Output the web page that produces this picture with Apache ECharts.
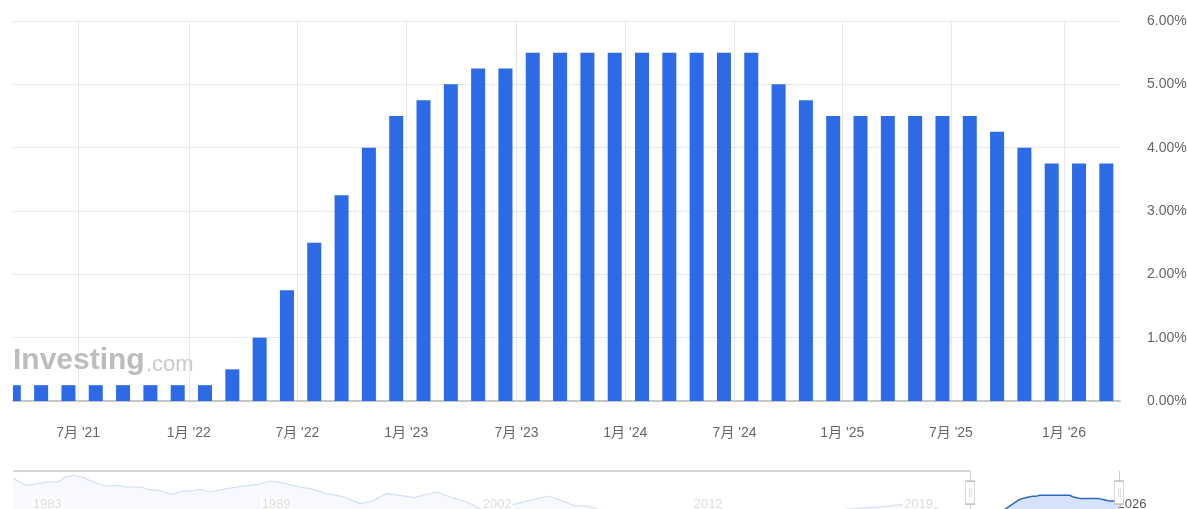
<!DOCTYPE html>
<html>
<head>
<meta charset="utf-8">
<script src="https://cdn.jsdelivr.net/npm/echarts@6/dist/echarts.min.js"></script>
<style>
    html, body { margin: 0; padding: 0; background: #fff; }
    #main { width: 1187px; height: 509px; }
</style>
</head>
<body>
<div id="main"></div>
<script>
// FOMC 决议日期与利率（上限，%）
var meetingDates = ['2021-03-17', '2021-04-28', '2021-06-16', '2021-07-28', '2021-09-22', '2021-11-03', '2021-12-15',
    '2022-01-26', '2022-03-16', '2022-05-04', '2022-06-15', '2022-07-27', '2022-09-21', '2022-11-02', '2022-12-14',
    '2023-02-01', '2023-03-22', '2023-05-03', '2023-06-14', '2023-07-26', '2023-09-20', '2023-11-01', '2023-12-13',
    '2024-01-31', '2024-03-20', '2024-05-01', '2024-06-12', '2024-07-31', '2024-09-18', '2024-11-07', '2024-12-18',
    '2025-01-29', '2025-03-19', '2025-05-07', '2025-06-18', '2025-07-30', '2025-09-17', '2025-10-29', '2025-12-10',
    '2026-01-28', '2026-03-18'];
var rates = [0.25, 0.25, 0.25, 0.25, 0.25, 0.25, 0.25,
    0.25, 0.50, 1.00, 1.75, 2.50, 3.25, 4.00, 4.50,
    4.75, 5.00, 5.25, 5.25, 5.50, 5.50, 5.50, 5.50,
    5.50, 5.50, 5.50, 5.50, 5.50, 5.00, 4.75, 4.50,
    4.50, 4.50, 4.50, 4.50, 4.50, 4.25, 4.00, 3.75,
    3.75, 3.75];

// x 轴标签
var tickLabels = ["7月 '21", "1月 '22", "7月 '22", "1月 '23", "7月 '23", "1月 '24", "7月 '24", "1月 '25", "7月 '25", "1月 '26"];
var tickDates = ['2021-07-01', '2022-01-01', '2022-07-01', '2023-01-01', '2023-07-01', '2024-01-01', '2024-07-01', '2025-01-01', '2025-07-01', '2026-01-01'];

// 下方缩略图：历史走势（横坐标以决议序号计）
var navX = [-260.3, -256.6, -251.2, -248.1, -246.2, -244.0, -241.6, -237.6, -234.8, -231.8, -229.4, -225.8, -223.6, -220.9,
    -217.2, -214.4, -211.7, -209.5, -206.7, -202.2, -197.8, -194.0, -190.4, -187.7, -182.3, -179.5, -175.0, -170.5,
    -165.9, -162.8, -158.7, -155.1, -151.4, -145.1, -141.5, -136.9, -133.3, -128.7, -124.7, -114.7, -107.9, -103.9,
    -100.7, -97.9, -73.4, -40.8, -31.8, -24.5, -18.2, -14.1, -9.5, -6.8, -4.1, 0];
var navY = [10.5, 8.5, 9.5, 9.5, 11.0, 11.5, 11.0, 9.0, 8.3, 8.5, 8.0, 8.0, 7.3, 7.0,
    5.8, 6.7, 6.8, 7.3, 6.5, 7.5, 8.3, 8.7, 9.8, 9.3, 8.0, 7.5, 6.0, 5.0,
    3.0, 3.7, 6.0, 5.5, 4.8, 6.5, 5.0, 3.5, 1.5, 1.0, 2.7, 5.3, 2.5, 2.2,
    1.0, 0.25, 0.25, 0.5, 1.5, 2.0, 2.8, 2.0, 1.75, 0.25, 0.25, 0.25];
var navYears = ['1983', '1989', '2002', '2012', '2019', '2026'];
var navYearPos = [-251.1, -188.8, -128.7, -71.3, -14.1, 44.0];

// 主图可见范围 / 缩略图范围
var viewMin = -0.03, viewMax = 40.5;
var navMin = -260.4, navMax = 51.6, navTop = 12.8;

// 日期 -> 决议序号（线性插值）
function datePos(s) {
    var t = new Date(s).getTime();
    for (var i = 0; i < meetingDates.length - 1; i++) {
        var a = new Date(meetingDates[i]).getTime();
        var b = new Date(meetingDates[i + 1]).getTime();
        if (t >= a && t < b) return i + (t - a) / (b - a);
    }
    return meetingDates.length - 1;
}
var tickPos = tickDates.map(datePos);

// 按数值找最近的标签
function nearest(list, names, v) {
    var best = 0;
    for (var i = 1; i < list.length; i++) {
        if (Math.abs(list[i] - v) < Math.abs(list[best] - v)) best = i;
    }
    return names[best];
}

var font = "Arial, 'Liberation Sans', 'Noto Sans CJK SC', sans-serif";
var barColor = '#2d6ae6';

// 柱子：用 custom 系列画，超出网格的部分裁掉
function renderBar(params, api) {
    var top = api.coord([api.value(0), api.value(1)]);
    var base = api.coord([api.value(0), 0]);
    var cs = params.coordSys;
    var rect = echarts.graphic.clipRectByRect(
        { x: top[0] - 7, y: top[1], width: 14, height: base[1] - top[1] },
        { x: cs.x, y: cs.y, width: cs.width, height: cs.height }
    );
    return rect && { type: 'rect', shape: rect, style: { fill: barColor } };
}

var chart = echarts.init(document.getElementById('main'));

var option = {
    animation: false,
    grid: [
        { left: 13, right: 67, top: 21, bottom: 108, outerBoundsMode: 'none' },
        { left: 13, right: 27, top: 471, height: 42.6, outerBoundsMode: 'none' }
    ],
    xAxis: [{
        type: 'value',
        min: viewMin,
        max: viewMax,
        axisLine: { lineStyle: { color: '#c6c6c6', width: 2 } },
        axisTick: { show: false, customValues: tickPos },
        axisLabel: {
            customValues: tickPos,
            margin: 25,
            fontSize: 14,
            fontFamily: font,
            color: '#666',
            formatter: function (v) { return nearest(tickPos, tickLabels, +v); }
        },
        splitLine: { show: true, lineStyle: { color: '#e8e8e8', width: 1 } }
    }, {
        type: 'value',
        gridIndex: 1,
        min: navMin,
        max: navMax,
        z: 3,
        axisLine: { show: false },
        axisTick: { show: false },
        splitLine: { show: false },
        axisLabel: {
            inside: true,
            customValues: navYearPos,
            margin: 3,
            fontSize: 13,
            fontFamily: font,
            backgroundColor: '#fff',
            padding: [0, 1],
            color: function (v) { return nearest(navYearPos, navYears, +v) === '2026' ? '#555' : '#dcdcdc'; },
            formatter: function (v) { return nearest(navYearPos, navYears, +v); }
        }
    }],
    yAxis: [{
        type: 'value',
        position: 'right',
        min: 0,
        max: 6,
        interval: 1,
        axisLine: { show: false },
        axisTick: { show: false },
        axisLabel: {
            margin: 27,
            fontSize: 14,
            fontFamily: font,
            color: '#666',
            padding: [0, 0, 9, 0],
            formatter: function (v) { return v.toFixed(2) + '%'; }
        },
        splitLine: { lineStyle: { color: '#e6e6e6', width: 1 } }
    }, {
        type: 'value',
        gridIndex: 1,
        min: 0,
        max: navTop,
        show: false
    }],
    graphic: [{
        type: 'text',
        z: 1,
        style: { x: 13, y: 361, text: 'Investing', font: 'bold 30px Arial, "Liberation Sans"', fill: '#bdbdbd', verticalAlign: 'middle' }
    }, {
        type: 'text',
        z: 1,
        style: { x: 146, y: 365, text: '.com', font: '22px Arial, "Liberation Sans"', fill: '#cacaca', verticalAlign: 'middle' }
    }],
    series: [{
        name: '利率决议',
        type: 'custom',
        renderItem: renderBar,
        encode: { x: 0, y: 1 },
        data: rates.map(function (v, i) { return [i, v]; })
    }, {
        // 缩略图：历史部分
        type: 'line',
        xAxisIndex: 1,
        yAxisIndex: 1,
        symbol: 'none',
        silent: true,
        z: 2,
        lineStyle: { color: '#d3dff2', width: 1.2 },
        areaStyle: { color: '#f4f7fd' },
        data: navX.map(function (x, i) { return [x, navY[i]]; })
    }, {
        // 缩略图：选中区间
        type: 'line',
        xAxisIndex: 1,
        yAxisIndex: 1,
        symbol: 'none',
        silent: true,
        z: 4,
        lineStyle: { color: '#2f66c2', width: 1.5 },
        areaStyle: { color: '#d4e3fa', opacity: 1 },
        data: rates.map(function (v, i) { return [i, v]; }),
        markLine: {
            silent: true,
            symbol: 'none',
            label: { show: false },
            data: [
                [{ coord: [navMin, navTop], lineStyle: { color: '#d6d6d6', width: 2, type: 'solid' } },
                 { coord: [viewMin, navTop] }],
                { xAxis: viewMin, lineStyle: { color: '#cfcfcf', width: 1, type: 'solid' } },
                { xAxis: viewMax, lineStyle: { color: '#cfcfcf', width: 1, type: 'solid' } }
            ]
        },
        markPoint: {
            silent: true,
            symbol: 'path://M0,0 L9,0 L9,23 L0,23 Z M3.5,7 L3.5,16 M5.5,7 L5.5,16',
            symbolSize: [9, 23],
            itemStyle: { color: '#fff', borderColor: '#c4c4c4', borderWidth: 1 },
            label: { show: false },
            data: [{ coord: [viewMin, 6.3] }, { coord: [viewMax, 6.3] }]
        }
    }]
};

chart.setOption(option);
</script>
</body>
</html>
